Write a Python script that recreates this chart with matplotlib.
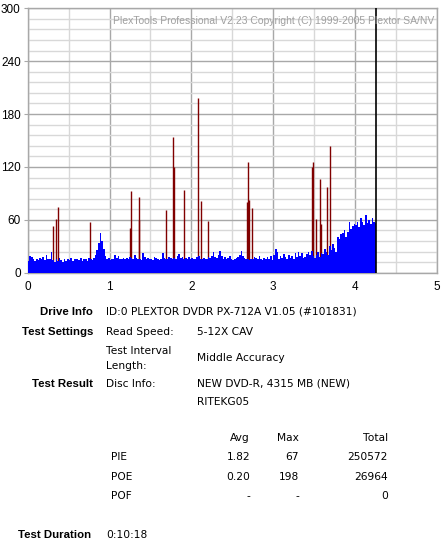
import numpy as np
import matplotlib
matplotlib.use("Agg")
import matplotlib.pyplot as plt

plt.rcParams['font.family'] = ['Liberation Sans', 'DejaVu Sans']

# PIE per sample (bar width 0.02, left edges from 0.00)
pie_step = 0.02
pie_vals = [
    13, 19, 18, 15, 13,  16, 14, 17, 15, 18,  14, 20, 16, 15, 23,  14, 12, 16, 13, 17,
    14, 12, 15, 13, 16,  14, 17, 13, 16, 15,  16, 14, 17, 13, 16,  15, 13, 17, 16, 14,
    17, 20, 26, 34, 45,  36, 27, 19, 15, 17,  14, 16, 15, 20, 17,  19, 16, 15, 17, 16,
    17, 16, 18, 17, 16,  20, 17, 16, 15, 14,  22, 18, 16, 17, 15,  16, 14, 18, 17, 15,
    14, 16, 22, 17, 15,  16, 18, 17, 15, 17,  16, 19, 21, 17, 18,  16, 17, 15, 18, 16,
    17, 15, 16, 18, 19,  16, 15, 17, 16, 15,  18, 17, 19, 24, 18,  17, 20, 25, 19, 16,
    18, 15, 17, 19, 16,  14, 16, 17, 18, 20,  25, 19, 17, 15, 16,  14, 16, 15, 18, 17,
    15, 19, 16, 14, 17,  15, 18, 16, 19, 14,  20, 27, 23, 16, 19,  17, 21, 18, 16, 20,
    17, 19, 15, 22, 18,  24, 19, 22, 17, 18,  21, 23, 20, 25, 19,  17, 20, 24, 18, 22,
    21, 27, 23, 20, 30,  26, 33, 28, 24, 41,  38, 44, 45, 48, 40,  46, 58, 50, 53, 55,
    54, 57, 52, 62, 58,  54, 65, 56, 60, 55,  62, 58, 56,
]

# POE spikes
poe_pos = [0.313, 0.350, 0.375, 0.766, 1.246, 1.268, 1.354, 1.364, 1.684, 1.770,
           1.782, 1.905, 2.076, 2.113, 2.199, 2.676, 2.688, 2.700, 2.737, 3.471,
           3.483, 3.520, 3.569, 3.578, 3.655, 3.692]
poe_vals = [53, 61, 75, 57, 51, 93, 86, 60, 71, 154,
            120, 94, 198, 81, 59, 80, 126, 83, 73, 120,
            126, 61, 106, 55, 97, 144]

end_pos = 4.26

info_rows = [
    ("Drive Info", "ID:0 PLEXTOR DVDR PX-712A V1.05 (#101831)", 312),
    ("Test Settings", "Read Speed:", 332),
    ("Test Result", "Disc Info:", 384),
]
stat_names = ["PIE", "POE", "POF"]
stat_avg = ["1.82", "0.20", "-"]
stat_max = ["67", "198", "-"]
stat_total = ["250572", "26964", "0"]

W, H = 448, 545
fig = plt.figure(figsize=(W / 100, H / 100), dpi=100)
fig.patch.set_facecolor('white')

def px(x, y):
    return x / W, 1 - y / H

l, b = px(27.7, 272.7)
r, t = px(437, 8.3)
ax = fig.add_axes([l, b, r - l, t - b])

x_pie = np.arange(len(pie_vals)) * pie_step
ax.bar(x_pie, pie_vals, width=pie_step, align='edge', color='#0000ff', lw=0, zorder=3)
ax.vlines(poe_pos, 0, poe_vals, color='#800000', lw=1.0, zorder=2)
ax.axvline(end_pos, color='black', lw=1.2, zorder=4)

ax.set_xlim(0, 5)
ax.set_ylim(0, 300)
ax.set_xticks(np.arange(0, 6, 1))
ax.set_xticks(np.arange(0.5, 5, 1), minor=True)
ax.set_yticks(np.arange(0, 301, 60))
ax.set_yticks(np.arange(12, 300, 12), minor=True)
ax.grid(which='major', color='#a8a8a8', lw=1.0, zorder=0)
ax.grid(which='minor', color='#d8d8d8', lw=1.0, zorder=0)
ax.set_axisbelow(True)
for s in ax.spines.values():
    s.set_color('#a8a8a8')
    s.set_linewidth(1.0)
ax.tick_params(axis='y', which='major', length=3, color='#a8a8a8', pad=2, labelsize=8.5)
ax.tick_params(axis='y', which='minor', length=0)
ax.tick_params(axis='x', which='both', length=0, pad=6, labelsize=8.5)

ax.text(4.97, 286, "PlexTools Professional V2.23 Copyright (C) 1999-2005 Plextor SA/NV",
        ha='right', va='center', color='#a0a0a0', fontsize=7.5, zorder=5)

# info section below the chart
fs = 7.7
reg = ['DejaVu Sans']
for lab, val, y in info_rows:
    fig.text(*px(93, y), lab, ha='right', va='center', fontsize=8.2, fontweight='bold')
    fig.text(*px(106, y), val, ha='left', va='center', fontsize=fs, family=reg)
fig.text(*px(197, 332), "5-12X CAV", ha='left', va='center', fontsize=fs, family=reg)
fig.text(*px(106, 351), "Test Interval", ha='left', va='center', fontsize=fs, family=reg)
fig.text(*px(106, 366), "Length:", ha='left', va='center', fontsize=fs, family=reg)
fig.text(*px(197, 358), "Middle Accuracy", ha='left', va='center', fontsize=fs, family=reg)
fig.text(*px(197, 384), "NEW DVD-R, 4315 MB (NEW)", ha='left', va='center', fontsize=fs, family=reg)
fig.text(*px(197, 402), "RITEKG05", ha='left', va='center', fontsize=fs, family=reg)

fig.text(*px(250, 438), "Avg", ha='right', va='center', fontsize=fs, family=reg)
fig.text(*px(299, 438), "Max", ha='right', va='center', fontsize=fs, family=reg)
fig.text(*px(388, 438), "Total", ha='right', va='center', fontsize=fs, family=reg)
for i, name in enumerate(stat_names):
    y = 457 + i * 19.5
    fig.text(*px(111, y), name, ha='left', va='center', fontsize=fs, family=reg)
    fig.text(*px(250, y), stat_avg[i], ha='right', va='center', fontsize=fs, family=reg)
    fig.text(*px(299, y), stat_max[i], ha='right', va='center', fontsize=fs, family=reg)
    fig.text(*px(388, y), stat_total[i], ha='right', va='center', fontsize=fs, family=reg)

fig.text(*px(18, 535), "Test Duration", ha='left', va='center', fontsize=8.2, fontweight='bold')
fig.text(*px(106, 535), "0:10:18", ha='left', va='center', fontsize=fs, family=reg)

fig.savefig("out.png", dpi=100)
